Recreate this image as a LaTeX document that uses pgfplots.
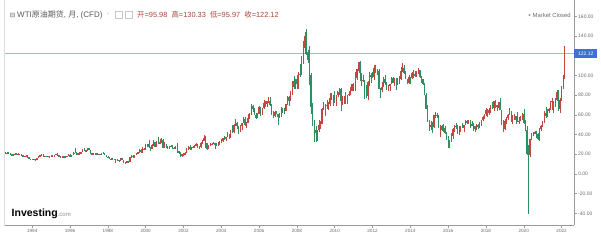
\documentclass[border=0pt]{standalone}
\usepackage{pgfplots}
\usepackage{pgfplotstable}
\pgfplotsset{compat=1.18}
\usepackage{fontspec}
\setmainfont{Liberation Sans}
\newfontfamily\cjk{Noto Sans CJK SC}
\newfontfamily\dejavu{DejaVu Sans}
\definecolor{cred}{HTML}{C4463C}
\definecolor{cgreen}{HTML}{2F8F64}
\definecolor{ctitle}{HTML}{5A5A5A}
\definecolor{cval}{HTML}{A8463C}
\definecolor{cblue}{HTML}{3F6FD8}
\definecolor{cline}{HTML}{9FB5F2}
\definecolor{caxis}{HTML}{9A9A9A}
\definecolor{ctick}{HTML}{6A6A6A}

\pgfplotstableread{
y m o h l c
1992 8 21.7 22.0 21.0 21.0
1992 9 21.0 22.1 20.9 21.7
1992 10 21.7 22.0 20.4 20.6
1992 11 20.6 20.8 19.9 20.0
1992 12 20.0 20.2 18.9 19.5
1993 1 19.5 20.5 18.9 20.3
1993 2 20.3 20.9 19.9 20.4
1993 3 20.4 20.8 19.9 20.2
1993 4 20.2 20.8 19.9 20.5
1993 5 20.5 20.7 19.6 19.9
1993 6 19.9 20.1 18.7 18.9
1993 7 18.9 19.1 17.2 17.9
1993 8 17.9 18.6 17.6 18.1
1993 9 18.1 18.9 16.9 18.6
1993 10 18.6 19.0 16.7 16.9
1993 11 16.9 17.1 15.3 15.4
1993 12 15.4 15.7 13.9 14.2
1994 1 14.2 15.5 14.1 15.2
1994 2 15.2 15.3 14.1 14.4
1994 3 14.4 15.0 14.0 14.7
1994 4 14.7 16.6 14.6 16.4
1994 5 16.4 18.2 16.3 17.9
1994 6 17.9 19.4 17.6 19.1
1994 7 19.1 20.0 18.8 19.6
1994 8 19.6 19.9 17.4 17.6
1994 9 17.6 18.6 16.9 18.4
1994 10 18.4 18.6 17.0 17.8
1994 11 17.8 18.5 17.5 18.1
1994 12 18.1 18.2 16.9 17.8
1995 1 17.8 18.8 17.5 18.4
1995 2 18.4 18.9 18.1 18.5
1995 3 18.5 19.3 17.8 19.2
1995 4 19.2 20.6 19.1 20.4
1995 5 20.4 20.8 18.7 18.9
1995 6 18.9 19.1 17.3 17.4
1995 7 17.4 17.9 16.9 17.6
1995 8 17.6 18.2 17.3 17.8
1995 9 17.8 18.0 17.3 17.6
1995 10 17.6 17.9 17.1 17.5
1995 11 17.5 18.3 17.4 18.2
1995 12 18.2 19.8 18.1 19.6
1996 1 19.6 19.9 17.4 17.7
1996 2 17.7 19.6 17.6 19.5
1996 3 19.5 22.4 19.2 21.5
1996 4 21.5 25.9 20.8 21.2
1996 5 21.2 22.0 19.1 19.8
1996 6 19.8 21.1 19.4 20.9
1996 7 20.9 22.4 20.4 20.6
1996 8 20.6 22.5 20.6 22.3
1996 9 22.3 25.2 22.1 24.4
1996 10 24.4 25.9 23.2 23.4
1996 11 23.4 24.5 22.9 23.9
1996 12 23.9 26.0 23.7 25.9
1997 1 25.9 26.6 24.1 24.2
1997 2 24.2 24.3 20.4 20.6
1997 3 20.6 21.4 19.7 20.9
1997 4 20.9 21.0 19.2 20.2
1997 5 20.2 21.3 20.0 20.9
1997 6 20.9 20.9 18.9 19.8
1997 7 19.8 20.6 19.3 20.1
1997 8 20.1 20.5 19.3 19.6
1997 9 19.6 21.3 19.2 21.2
1997 10 21.2 22.1 20.5 21.1
1997 11 21.1 21.2 19.1 19.2
1997 12 19.2 19.3 17.4 17.6
1998 1 17.6 17.9 16.1 17.2
1998 2 17.2 17.3 15.2 15.4
1998 3 15.4 16.7 13.8 15.6
1998 4 15.6 16.3 14.7 15.4
1998 5 15.4 15.6 14.6 15.2
1998 6 15.2 15.3 11.4 14.2
1998 7 14.2 14.9 13.5 14.1
1998 8 14.1 14.3 12.4 13.4
1998 9 13.4 16.6 13.3 16.1
1998 10 16.1 16.2 13.9 14.4
1998 11 14.4 14.6 11.0 11.2
1998 12 11.2 12.4 10.4 12.1
1999 1 12.1 13.0 11.7 12.8
1999 2 12.8 13.0 11.6 12.3
1999 3 12.3 17.0 12.2 16.8
1999 4 16.8 18.8 16.3 18.7
1999 5 18.7 19.1 16.5 16.8
1999 6 16.8 19.4 16.4 19.3
1999 7 19.3 20.9 19.0 20.5
1999 8 20.5 22.3 19.8 22.1
1999 9 22.1 25.0 21.7 24.5
1999 10 24.5 24.9 21.2 21.8
1999 11 21.8 27.0 21.7 24.6
1999 12 24.6 26.4 24.0 25.6
2000 1 25.6 30.0 24.0 27.6
2000 2 27.6 30.6 27.0 30.4
2000 3 30.4 34.4 26.2 26.9
2000 4 26.9 27.5 23.7 25.7
2000 5 25.7 30.6 25.6 29.0
2000 6 29.0 34.1 28.1 32.5
2000 7 32.5 32.8 26.9 27.4
2000 8 27.4 33.4 27.2 33.1
2000 9 33.1 37.8 30.1 30.8
2000 10 30.8 35.3 30.6 32.7
2000 11 32.7 37.0 31.6 34.4
2000 12 34.4 35.0 26.1 26.8
2001 1 26.8 32.5 26.2 28.7
2001 2 28.7 30.0 26.8 27.4
2001 3 27.4 28.7 25.4 26.3
2001 4 26.3 28.8 25.4 28.5
2001 5 28.5 29.8 26.9 28.4
2001 6 28.4 29.1 25.6 26.3
2001 7 26.3 27.4 25.2 26.4
2001 8 26.4 28.5 26.0 27.2
2001 9 27.2 31.3 21.2 23.4
2001 10 23.4 23.6 20.0 21.2
2001 11 21.2 22.6 17.5 19.4
2001 12 19.4 20.4 17.6 19.8
2002 1 19.8 21.3 17.9 19.5
2002 2 19.5 21.9 19.4 21.7
2002 3 21.7 26.4 21.6 26.3
2002 4 26.3 28.4 24.2 27.3
2002 5 27.3 29.3 24.3 25.3
2002 6 25.3 27.0 24.3 26.9
2002 7 26.9 28.2 25.9 27.0
2002 8 27.0 29.5 26.3 28.9
2002 9 28.9 31.1 28.6 30.5
2002 10 30.5 30.6 26.8 27.2
2002 11 27.2 27.9 25.1 26.9
2002 12 26.9 32.5 26.4 31.2
2003 1 31.2 34.0 30.6 33.5
2003 2 33.5 40.0 33.3 36.6
2003 3 36.6 38.1 26.8 31.0
2003 4 31.0 31.2 24.6 25.8
2003 5 25.8 29.6 25.1 29.5
2003 6 29.5 31.4 28.7 30.2
2003 7 30.2 31.9 29.6 30.5
2003 8 30.5 32.4 30.1 31.6
2003 9 31.6 31.8 25.5 29.2
2003 10 29.2 31.7 28.6 29.1
2003 11 29.1 32.4 28.7 30.4
2003 12 30.4 33.2 29.6 32.5
2004 1 32.5 35.2 32.2 33.1
2004 2 33.1 36.6 32.3 36.2
2004 3 36.2 38.2 34.9 35.8
2004 4 35.8 37.9 33.7 37.4
2004 5 37.4 42.3 37.3 39.9
2004 6 39.9 40.3 35.6 37.1
2004 7 37.1 44.3 37.0 43.8
2004 8 43.8 49.4 41.4 42.1
2004 9 42.1 50.5 41.8 49.6
2004 10 49.6 55.7 48.5 51.8
2004 11 51.8 53.1 45.6 49.1
2004 12 49.1 49.2 40.3 43.5
2005 1 43.5 49.3 42.1 48.2
2005 2 48.2 52.2 45.0 51.8
2005 3 51.8 57.7 51.3 55.4
2005 4 55.4 58.3 49.1 49.7
2005 5 49.7 52.6 46.2 52.0
2005 6 52.0 61.0 51.9 56.5
2005 7 56.5 62.3 55.9 60.6
2005 8 60.6 70.9 60.2 68.9
2005 9 68.9 70.4 62.6 66.2
2005 10 66.2 66.5 59.5 59.8
2005 11 59.8 61.6 56.3 57.3
2005 12 57.3 61.7 56.4 61.0
2006 1 61.0 69.2 60.9 67.9
2006 2 67.9 68.3 59.3 61.4
2006 3 61.4 67.0 59.6 66.6
2006 4 66.6 75.4 66.0 71.9
2006 5 71.9 74.4 68.3 71.3
2006 6 71.3 74.0 68.3 73.9
2006 7 73.9 78.4 72.2 74.4
2006 8 74.4 77.7 69.5 70.3
2006 9 70.3 70.6 59.5 62.9
2006 10 62.9 63.6 56.6 58.7
2006 11 58.7 63.8 57.6 63.1
2006 12 63.1 64.0 60.5 61.1
2007 1 61.1 61.3 49.9 58.1
2007 2 58.1 62.3 56.8 61.8
2007 3 61.8 68.1 58.1 65.9
2007 4 65.9 66.9 61.9 65.7
2007 5 65.7 66.6 61.0 64.0
2007 6 64.0 70.7 63.8 70.7
2007 7 70.7 78.8 69.6 78.2
2007 8 78.2 78.8 69.0 74.0
2007 9 74.0 83.9 73.9 81.7
2007 10 81.7 94.7 79.8 94.5
2007 11 94.5 99.3 86.0 88.7
2007 12 88.7 96.8 85.9 96.0
2008 1 96.0 100.1 86.1 91.8
2008 2 91.8 103.1 86.6 101.8
2008 3 101.8 111.8 98.7 101.6
2008 4 101.6 119.9 100.0 113.5
2008 5 113.5 135.1 111.7 127.4
2008 6 127.4 143.7 122.0 140.0
2008 7 140.0 147.3 120.4 124.1
2008 8 124.1 126.0 112.2 115.5
2008 9 115.5 130.0 90.5 100.6
2008 10 100.6 102.0 61.3 67.8
2008 11 67.8 72.3 48.2 54.4
2008 12 54.4 54.5 32.4 44.6
2009 1 44.6 48.6 32.7 41.7
2009 2 41.7 44.9 33.6 44.8
2009 3 44.8 54.7 42.1 49.7
2009 4 49.7 54.2 45.5 51.1
2009 5 51.1 66.5 50.5 66.3
2009 6 66.3 73.4 64.7 69.9
2009 7 69.9 70.6 59.2 69.5
2009 8 69.5 75.0 66.2 70.0
2009 9 70.0 72.9 65.1 70.6
2009 10 70.6 82.0 69.2 77.0
2009 11 77.0 81.9 74.6 77.3
2009 12 77.3 80.0 68.6 79.4
2010 1 79.4 84.0 72.4 72.9
2010 2 72.9 80.5 69.5 79.7
2010 3 79.7 83.2 78.5 83.8
2010 4 83.8 87.2 80.2 86.2
2010 5 86.2 87.2 64.2 74.0
2010 6 74.0 79.4 70.4 75.6
2010 7 75.6 79.4 71.1 79.0
2010 8 79.0 83.0 70.8 71.9
2010 9 71.9 80.0 70.8 80.0
2010 10 80.0 84.4 79.6 81.4
2010 11 81.4 88.6 80.2 84.1
2010 12 84.1 91.6 84.0 91.4
2011 1 91.4 92.6 84.5 92.2
2011 2 92.2 103.4 83.9 97.0
2011 3 97.0 106.9 95.4 106.7
2011 4 106.7 114.0 105.0 113.9
2011 5 113.9 114.8 94.6 102.7
2011 6 102.7 102.8 89.7 95.4
2011 7 95.4 100.6 93.6 95.7
2011 8 95.7 95.8 75.7 88.8
2011 9 88.8 90.5 77.1 79.2
2011 10 79.2 94.7 75.0 93.2
2011 11 93.2 103.4 89.2 100.4
2011 12 100.4 102.4 92.5 98.8
2012 1 98.8 103.7 97.3 98.5
2012 2 98.5 110.6 95.4 107.1
2012 3 107.1 110.6 102.1 103.0
2012 4 103.0 106.1 100.7 104.9
2012 5 104.9 106.7 86.2 86.5
2012 6 86.5 86.8 77.3 85.0
2012 7 85.0 92.9 82.9 88.1
2012 8 88.1 98.3 87.9 96.5
2012 9 96.5 100.4 90.0 92.2
2012 10 92.2 93.3 84.9 86.2
2012 11 86.2 89.9 84.1 88.9
2012 12 88.9 91.2 84.2 91.8
2013 1 91.8 98.2 91.8 97.5
2013 2 97.5 98.2 91.9 92.1
2013 3 92.1 97.8 89.3 97.2
2013 4 97.2 97.8 85.6 93.5
2013 5 93.5 97.2 90.3 92.0
2013 6 92.0 99.0 91.6 96.6
2013 7 96.6 108.9 95.6 105.0
2013 8 105.0 112.2 103.1 107.7
2013 9 107.7 110.7 101.8 102.3
2013 10 102.3 104.6 96.3 96.4
2013 11 96.4 96.5 91.8 92.7
2013 12 92.7 100.5 91.8 98.4
2014 1 98.4 98.7 91.2 97.5
2014 2 97.5 103.7 96.0 102.6
2014 3 102.6 105.2 97.4 101.6
2014 4 101.6 104.9 98.6 99.7
2014 5 99.7 104.3 98.7 102.7
2014 6 102.7 107.7 101.8 105.4
2014 7 105.4 106.0 97.1 98.2
2014 8 98.2 99.0 92.5 96.0
2014 9 96.0 96.2 90.4 91.2
2014 10 91.2 92.3 79.8 80.5
2014 11 80.5 82.5 65.7 66.2
2014 12 66.2 69.8 52.7 53.3
2015 1 53.3 55.2 43.6 48.2
2015 2 48.2 54.2 44.4 49.8
2015 3 49.8 52.5 42.0 47.6
2015 4 47.6 59.9 46.7 59.6
2015 5 59.6 62.6 56.5 60.3
2015 6 60.3 61.9 57.3 59.5
2015 7 59.5 59.7 46.7 47.1
2015 8 47.1 49.3 37.8 49.2
2015 9 49.2 49.7 43.2 45.1
2015 10 45.1 50.9 42.6 46.6
2015 11 46.6 48.4 40.2 41.7
2015 12 41.7 42.7 34.5 37.0
2016 1 37.0 38.4 26.2 33.6
2016 2 33.6 34.8 26.1 33.8
2016 3 33.8 41.9 32.5 38.3
2016 4 38.3 46.8 35.2 45.9
2016 5 45.9 50.2 43.0 49.1
2016 6 49.1 51.7 45.8 48.3
2016 7 48.3 49.4 40.6 41.6
2016 8 41.6 49.0 39.2 44.7
2016 9 44.7 48.4 42.5 48.2
2016 10 48.2 51.9 46.6 46.9
2016 11 46.9 49.9 42.2 49.4
2016 12 49.4 54.5 49.3 53.7
2017 1 53.7 55.2 50.7 52.8
2017 2 52.8 54.9 51.2 54.0
2017 3 54.0 54.6 47.1 50.6
2017 4 50.6 53.8 48.2 49.3
2017 5 49.3 52.0 43.8 48.3
2017 6 48.3 49.0 42.1 46.0
2017 7 46.0 50.4 44.4 50.2
2017 8 50.2 50.6 45.6 47.2
2017 9 47.2 52.9 46.3 51.7
2017 10 51.7 54.9 49.1 54.4
2017 11 54.4 59.1 53.9 57.4
2017 12 57.4 60.5 55.8 60.4
2018 1 60.4 66.7 59.1 64.7
2018 2 64.7 66.2 58.1 61.6
2018 3 61.6 66.6 59.9 64.9
2018 4 64.9 69.6 61.8 68.6
2018 5 68.6 72.9 66.1 67.0
2018 6 67.0 74.5 63.6 74.2
2018 7 74.2 75.3 67.0 68.8
2018 8 68.8 70.4 64.4 69.8
2018 9 69.8 73.5 67.4 73.3
2018 10 73.3 76.9 64.9 65.3
2018 11 65.3 65.4 49.4 50.9
2018 12 50.9 54.6 42.4 45.4
2019 1 45.4 55.4 44.4 53.8
2019 2 53.8 57.8 51.2 57.2
2019 3 57.2 60.7 54.5 60.1
2019 4 60.1 66.6 60.0 63.9
2019 5 63.9 63.8 53.0 53.5
2019 6 53.5 59.9 50.6 58.5
2019 7 58.5 60.9 54.7 58.6
2019 8 58.6 58.8 50.5 55.1
2019 9 55.1 63.4 52.8 54.1
2019 10 54.1 57.5 51.0 54.2
2019 11 54.2 58.7 54.0 55.2
2019 12 55.2 61.9 55.3 61.1
2020 1 61.1 65.7 51.1 51.6
2020 2 51.6 54.7 44.0 44.8
2020 3 44.8 48.7 19.3 20.5
2020 4 20.5 29.1 -40.3 18.8
2020 5 18.8 35.7 17.3 35.5
2020 6 35.5 41.6 34.4 39.3
2020 7 39.3 42.5 38.7 40.3
2020 8 40.3 43.8 40.1 42.6
2020 9 42.6 43.4 36.1 40.2
2020 10 40.2 41.9 34.9 35.8
2020 11 35.8 46.3 33.6 45.3
2020 12 45.3 49.4 43.9 48.5
2021 1 48.5 53.9 47.3 52.2
2021 2 52.2 63.8 51.6 61.5
2021 3 61.5 67.9 57.3 59.2
2021 4 59.2 65.5 57.6 63.6
2021 5 63.6 67.0 61.6 66.3
2021 6 66.3 74.4 64.6 73.5
2021 7 73.5 77.0 65.0 74.0
2021 8 74.0 74.5 61.7 68.5
2021 9 68.5 76.7 67.6 75.0
2021 10 75.0 85.4 74.5 83.6
2021 11 83.6 85.0 64.4 66.2
2021 12 66.2 76.9 62.4 75.2
2022 1 75.2 88.8 74.3 88.2
2022 2 88.2 100.5 86.5 95.7
2022 3 95.98 130.33 95.97 122.12
}\oil

\begin{document}
\begin{tikzpicture}[x=1pt,y=1pt]
\useasboundingbox (0,0) rectangle (601,241);
\draw[gray!25, line width=0.5pt] (4.5,15) -- (4.5,241);
\begin{axis}[
  at={(5pt,16pt)}, anchor=south west,
  scale only axis, width=569pt, height=225pt,
  xmin=1992.56, xmax=2022.66,
  ymin=-51.8, ymax=176.6,
  axis x line*=bottom, axis y line*=right,
  axis line style={draw=caxis, line width=0.5pt},
  tick align=outside, major tick length=2.5pt,
  tick style={draw=caxis, line width=0.4pt},
  xtick={1994,1996,...,2022},
  xticklabels={1994,1996,1998,2000,2002,2004,2006,2008,2010,2012,2014,2016,2018,2020,2022},
  xticklabel style={font=\fontsize{4.6}{5}\selectfont, text=ctick, inner sep=0pt, anchor=north, yshift=-1.5pt},
  ytick={-40,-20,0,20,40,60,80,100,140,160},
  yticklabel={\pgfmathprintnumber[fixed,fixed zerofill,precision=2,assume math mode=true]{\tick}},
  yticklabel style={font=\fontsize{5}{6}\selectfont, text=ctick, inner sep=0pt, anchor=west, xshift=1.5pt},
  clip mode=individual,
]
\addplot[cline, line width=0.6pt, forget plot] coordinates {(1992.56,122.12) (2022.66,122.12)};
% wicks up
\addplot[forget plot, draw=none, mark=none,
  x filter/.expression={(\thisrow{c}<\thisrow{o}) ? nan : x},
  error bars/.cd, y dir=both, y explicit, error mark=none,
  error bar style={draw=cred, line width=0.45pt}]
  table[x expr=\thisrow{y}+(\thisrow{m}-1)/12, y expr=(\thisrow{h}+\thisrow{l})/2, y error expr=(\thisrow{h}-\thisrow{l})/2] {\oil};
% wicks down
\addplot[forget plot, draw=none, mark=none,
  x filter/.expression={(\thisrow{c}<\thisrow{o}) ? x : nan},
  error bars/.cd, y dir=both, y explicit, error mark=none,
  error bar style={draw=cgreen, line width=0.45pt}]
  table[x expr=\thisrow{y}+(\thisrow{m}-1)/12, y expr=(\thisrow{h}+\thisrow{l})/2, y error expr=(\thisrow{h}-\thisrow{l})/2] {\oil};
% bodies up
\addplot[forget plot, draw=none, mark=none,
  x filter/.expression={(\thisrow{c}<\thisrow{o}) ? nan : x},
  error bars/.cd, y dir=both, y explicit, error mark=none,
  error bar style={draw=cred, line width=1.2pt}]
  table[x expr=\thisrow{y}+(\thisrow{m}-1)/12, y expr=(\thisrow{o}+\thisrow{c})/2, y error expr=abs(\thisrow{c}-\thisrow{o})/2] {\oil};
% bodies down
\addplot[forget plot, draw=none, mark=none,
  x filter/.expression={(\thisrow{c}<\thisrow{o}) ? x : nan},
  error bars/.cd, y dir=both, y explicit, error mark=none,
  error bar style={draw=cgreen, line width=1.2pt}]
  table[x expr=\thisrow{y}+(\thisrow{m}-1)/12, y expr=(\thisrow{o}+\thisrow{c})/2, y error expr=abs(\thisrow{c}-\thisrow{o})/2] {\oil};
\node[fill=cblue, text=white, inner sep=0pt, minimum width=23pt, minimum height=8.5pt, anchor=west,
  font=\fontsize{5}{6}\selectfont] at (axis cs:2022.66,122.12) {122.12};
\end{axis}
% title
\node[anchor=center, text=ctitle, font=\dejavu\fontsize{6.5}{7}\selectfont, inner sep=0pt] at (12.5,226) {⊟};
\node[anchor=west, text=ctitle, font=\fontsize{8}{9}\selectfont, inner sep=0pt] at (17,226) {WTI{\cjk 原油期货}, {\cjk 月}, (CFD)};
\node[anchor=center, text=gray!60, font=\dejavu\fontsize{5}{6}\selectfont, inner sep=0pt] at (108.5,226.5) {∘};
\draw[gray!45, line width=0.4pt] (115.5,223) rectangle (122.5,230);
\draw[gray!45, line width=0.4pt] (125,223) rectangle (132,230);
\node[anchor=west, text=cval, font=\fontsize{7.4}{8}\selectfont, inner sep=0pt] at (137,226) {{\cjk 开}=95.98\ \ {\cjk 高}=130.33\ \ {\cjk 低}=95.97\ \ {\cjk 收}=122.12};
% market closed
\fill[gray!80] (529.5,226) circle (1.1pt);
\node[anchor=west, text=gray!85!black, font=\fontsize{5.9}{7}\selectfont, inner sep=0pt] at (532.5,226) {Market Closed};
% logo
\node[anchor=base west, inner sep=0pt, font=\bfseries\fontsize{10.5}{11}\selectfont] at (11.5,24.5) {Investing\fontsize{6}{7}\selectfont\mdseries\color{gray!90}.com};
\end{tikzpicture}
\end{document}
